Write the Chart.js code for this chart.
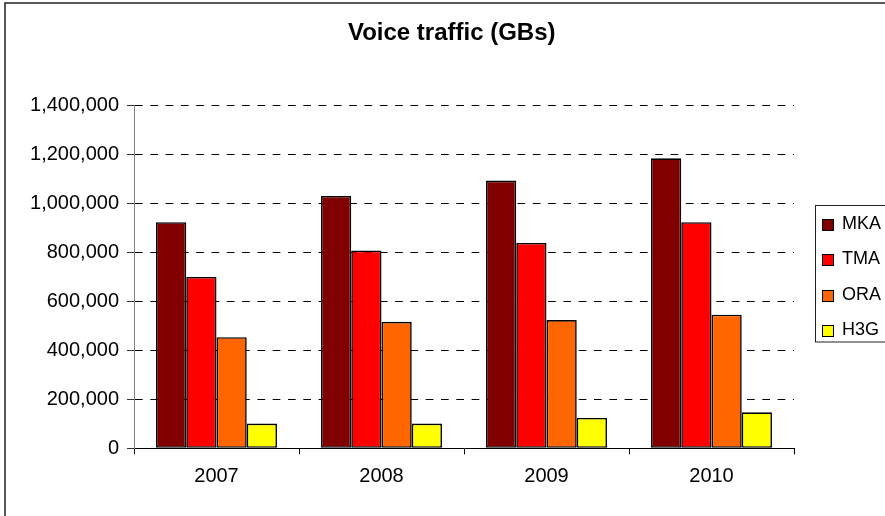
<!DOCTYPE html>
<html>
<head>
<meta charset="utf-8">
<script src="https://cdn.jsdelivr.net/npm/chart.js@4/dist/chart.umd.min.js"></script>
<style>
  html, body { margin: 0; padding: 0; background: #fff; }
  #wrap { width: 885px; height: 516px; }
</style>
</head>
<body>
<div id="wrap"><canvas id="c" width="885" height="516"></canvas></div>
<script>
// Voice traffic per operator, GBs
const years = ['2007', '2008', '2009', '2010'];
const seriesNames = ['MKA', 'TMA', 'ORA', 'H3G'];
const mka = [924000, 1031000, 1094000, 1185000];
const tma = [700000, 808000, 839000, 924000];
const ora = [454000, 517000, 524000, 546000];
const h3g = [101000, 101000, 124000, 147000];
const seriesColors = ['#800000', '#FF0000', '#FF6600', '#FFFF00'];
const yMax = 1400000;
const yStep = 200000;
const chartTitle = 'Voice traffic (GBs)';

const FONT = "'Liberation Sans', Arial, sans-serif";
const values = [mka, tma, ora, h3g];

// outer frame and the title, centred over the framed area
const framePlugin = {
  id: 'frame',
  beforeDraw(chart) {
    const ctx = chart.ctx;
    ctx.save();
    ctx.fillStyle = '#fff';
    ctx.fillRect(0, 0, chart.width, chart.height);
    ctx.strokeStyle = '#222';
    ctx.lineWidth = 1.5;
    ctx.strokeRect(5, 3, 1000, 1000);
    ctx.restore();
  },
  afterDraw(chart) {
    const ctx = chart.ctx;
    ctx.save();
    ctx.fillStyle = '#000';
    ctx.font = 'bold 24px ' + FONT;
    ctx.textAlign = 'center';
    ctx.textBaseline = 'middle';
    ctx.fillText(chartTitle, 451.7, 33.5);
    ctx.restore();
  }
};

// boxed legend on the right, built from the datasets
const boxLegendPlugin = {
  id: 'boxLegend',
  afterDraw(chart) {
    const ctx = chart.ctx;
    ctx.save();
    ctx.strokeStyle = '#222';
    ctx.lineWidth = 1;
    ctx.strokeRect(815.5, 205.5, 200, 136.5);
    ctx.font = '18px ' + FONT;
    ctx.textBaseline = 'middle';
    ctx.textAlign = 'left';
    chart.data.datasets.forEach((ds, i) => {
      const cy = 224 + i * 35.5;
      const top = Math.round(cy - 5.5) + 0.5;
      ctx.fillStyle = ds.backgroundColor;
      ctx.fillRect(822.5, top, 11, 11);
      ctx.strokeStyle = '#000';
      ctx.strokeRect(822.5, top, 11, 11);
      ctx.fillStyle = '#000';
      ctx.fillText(ds.label, 842, cy);
    });
    ctx.restore();
  }
};

new Chart(document.getElementById('c'), {
  type: 'bar',
  data: {
    labels: years,
    datasets: seriesNames.map((name, i) => ({
      label: name,
      data: values[i],
      backgroundColor: seriesColors[i],
      borderColor: '#000',
      borderWidth: 1.6,
      borderSkipped: false,
      barPercentage: 1,
      categoryPercentage: 0.733
    }))
  },
  options: {
    responsive: false,
    animation: false,
    devicePixelRatio: 1,
    layout: { padding: { left: 0, right: 91, top: 105.7, bottom: 0 } },
    plugins: {
      legend: { display: false },
      tooltip: { enabled: false },
      title: { display: false }
    },
    scales: {
      x: {
        offset: true,
        grid: {
          display: true,
          offset: true,
          drawOnChartArea: false,
          drawTicks: true,
          tickLength: 6,
          color: '#000',
          tickColor: '#000'
        },
        border: { display: true, color: '#000', width: 1 },
        ticks: {
          color: '#000',
          font: { family: FONT, size: 20 },
          padding: 10.5,
          maxRotation: 0
        },
        afterFit(scale) { scale.height = 67.7; }
      },
      y: {
        min: 0,
        max: yMax,
        grid: {
          color: ctx => (ctx.tick && ctx.tick.value === 0) ? 'rgba(0,0,0,0)' : '#000',
          tickColor: '#333',
          lineWidth: 1,
          drawTicks: true,
          tickLength: 7
        },
        border: { display: true, color: '#808080', width: 1, dash: [7.7, 7.6] },
        ticks: {
          stepSize: yStep,
          color: '#000',
          font: { family: FONT, size: 20 },
          padding: 8,
          callback: v => Number(v).toLocaleString('en-US')
        },
        afterFit(scale) { scale.width = 134; }
      }
    }
  },
  plugins: [framePlugin, boxLegendPlugin]
});
</script>
</body>
</html>
